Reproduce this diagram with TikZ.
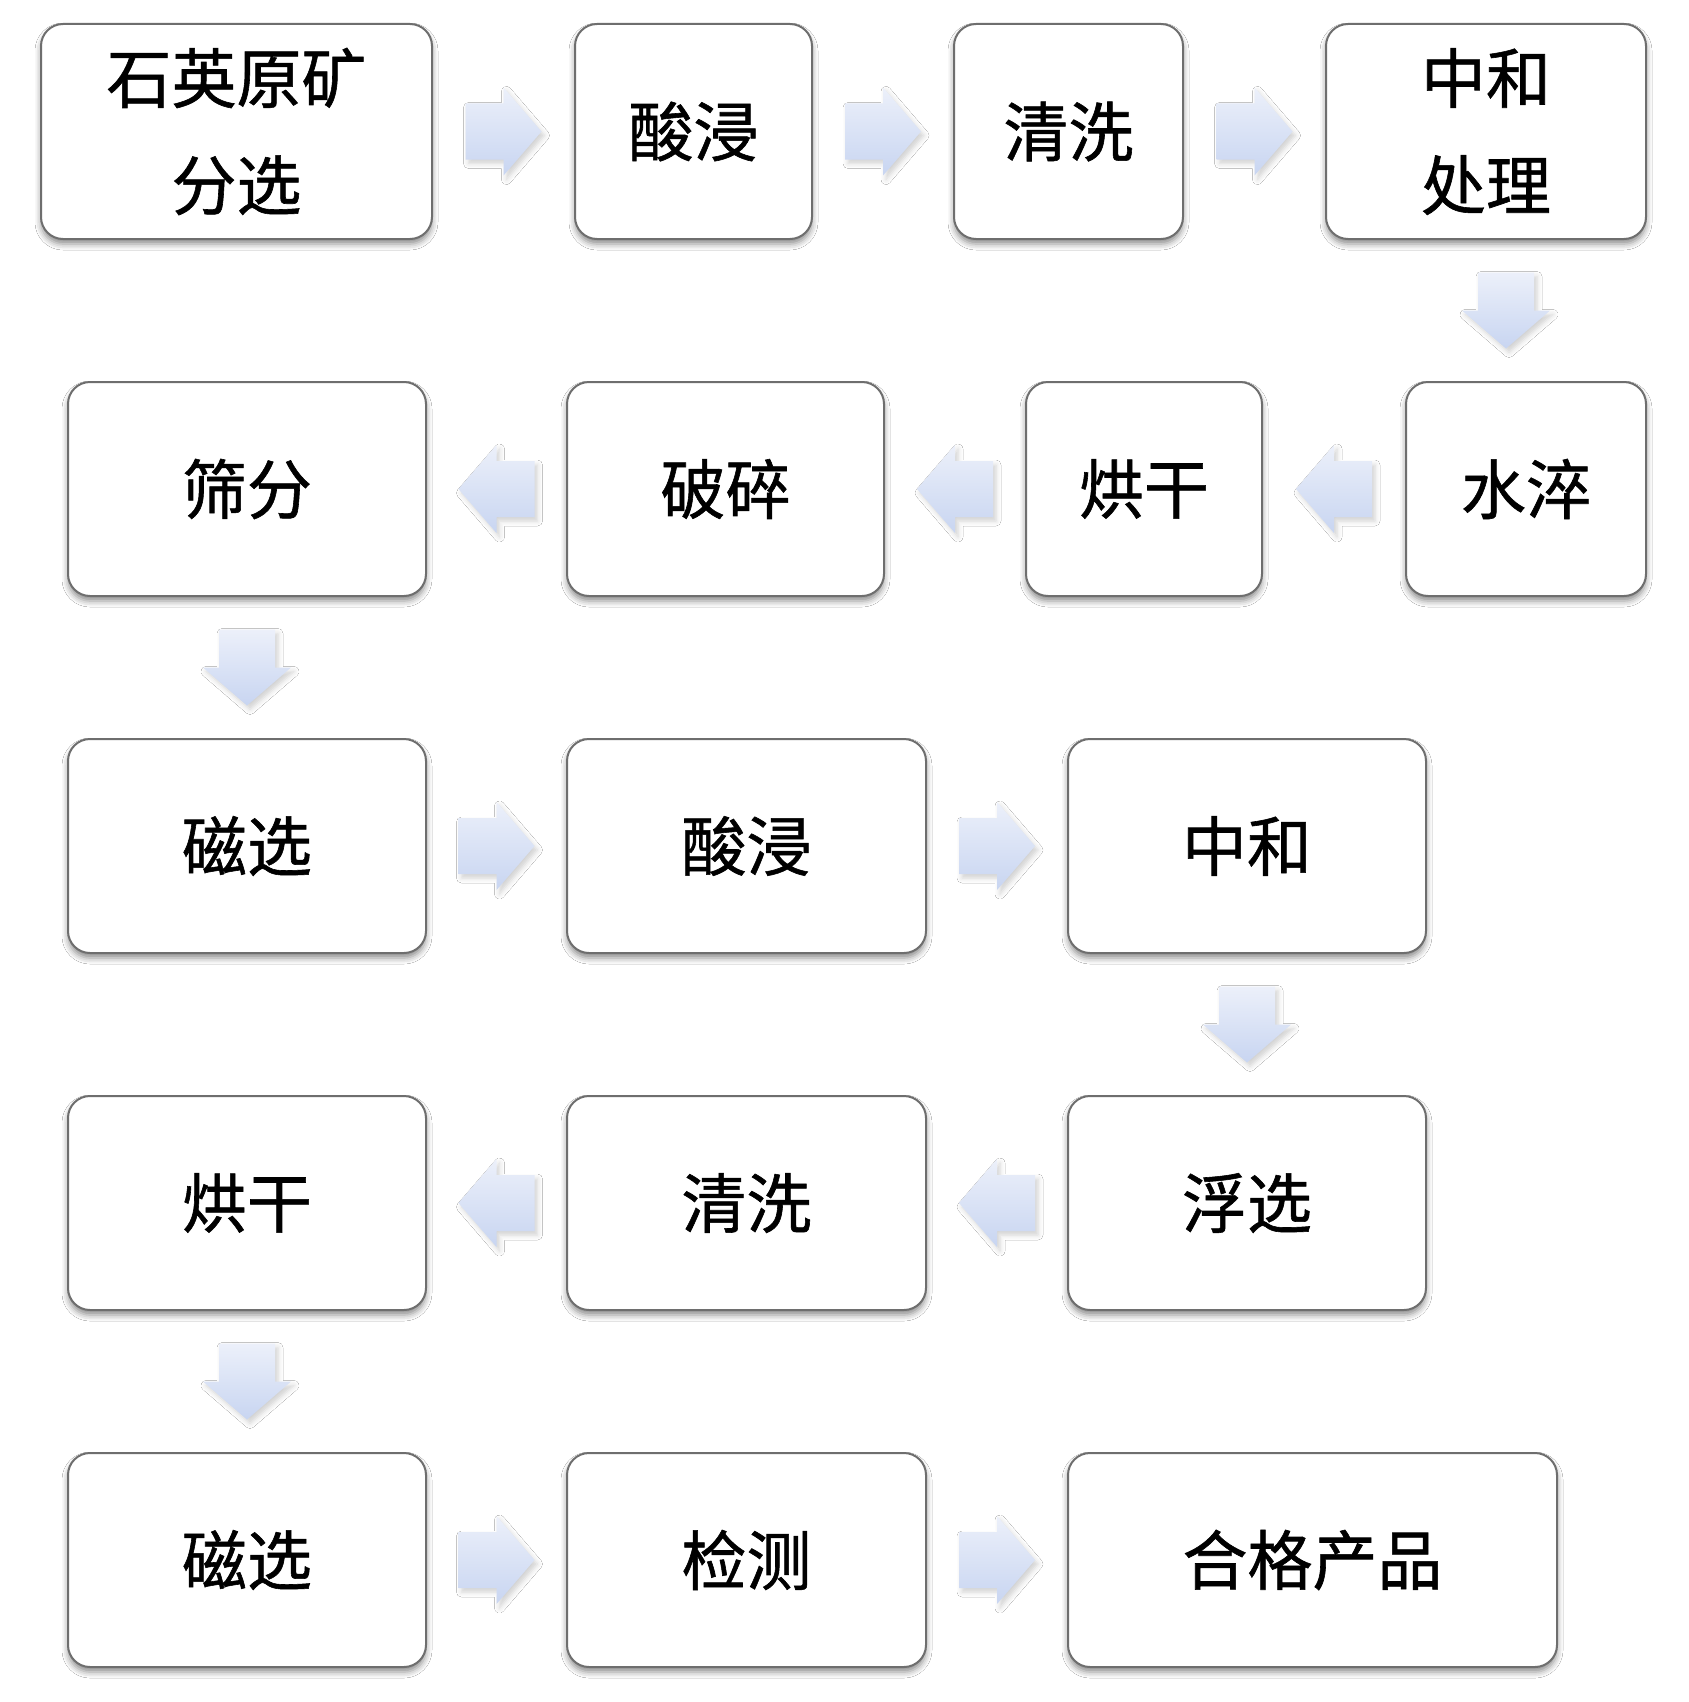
\documentclass[tikz,border=0pt]{standalone}
\usepackage{fontspec}
\setmainfont{Noto Sans CJK SC}
\newfontfamily\cjkb[FakeBold=0.9]{Noto Sans CJK SC}
\usetikzlibrary{calc,shadows.blur}
\tikzset{
  box/.style={draw=boxline, line width=1pt, rounded corners=11pt, fill=white,
    align=center, inner sep=0pt, anchor=center,
    font=\cjkb\fontsize{32.5pt}{53.5pt}\selectfont,
    blur shadow={shadow xshift=0pt, shadow yshift=-2.5pt, shadow blur radius=3pt, shadow opacity=45}},
  arrfill/.style={top color=arrtop, bottom color=arrbot, draw=none,
    blur shadow={shadow xshift=1.5pt, shadow yshift=-2pt, shadow blur radius=2.5pt, shadow opacity=18}},
  rarr/.pic={\path[arrfill] (-19pt,-14pt) -- (0pt,-14pt) -- (0pt,-22pt) -- (19pt,0pt) -- (0pt,22pt) -- (0pt,14pt) -- (-19pt,14pt) -- cycle;},
  larr/.pic={\path[arrfill] (19pt,-14pt) -- (0pt,-14pt) -- (0pt,-22pt) -- (-19pt,0pt) -- (0pt,22pt) -- (0pt,14pt) -- (19pt,14pt) -- cycle;},
  darr/.pic={\path[arrfill] (-14pt,19pt) -- (-14pt,0pt) -- (-22pt,0pt) -- (0pt,-19pt) -- (22pt,0pt) -- (14pt,0pt) -- (14pt,19pt) -- cycle;}
}
\definecolor{boxline}{HTML}{6E6E6E}
\definecolor{arrtop}{HTML}{ECF0FA}
\definecolor{arrbot}{HTML}{C8D5F1}
\begin{document}
\begin{tikzpicture}[x=0.5pt,y=-0.5pt]
\useasboundingbox[fill=white] (0,0) rectangle (1688,1702);
% row 1
\node[box, minimum width=195.5pt, minimum height=107.5pt] (b1) at (236.5,131.5) {\raisebox{-2pt}{石英原矿}\\\raisebox{-2pt}{分选}};
\node[box, minimum width=118.5pt, minimum height=107.5pt] (b2) at (693.5,131.5) {\raisebox{-3pt}{酸浸}};
\node[box, minimum width=114.5pt, minimum height=107.5pt] (b3) at (1068.5,131.5) {\raisebox{-3pt}{清洗}};
\node[box, minimum width=160pt, minimum height=107.5pt] (b4) at (1486,131.5) {\raisebox{-2pt}{中和}\\\raisebox{-2pt}{处理}};
% row 2
\node[box, minimum width=179pt, minimum height=107pt] (b5) at (247,489) {筛分};
\node[box, minimum width=158.5pt, minimum height=107pt] (b6) at (725.5,489) {破碎};
\node[box, minimum width=118pt, minimum height=107pt] (b7) at (1144,489) {\raisebox{-2pt}{烘干}};
\node[box, minimum width=120pt, minimum height=107pt] (b8) at (1526,489) {\raisebox{-2pt}{水淬}};
% row 3
\node[box, minimum width=179pt, minimum height=107pt] (b9) at (247,846) {磁选};
\node[box, minimum width=179.5pt, minimum height=107pt] (b10) at (746.5,846) {酸浸};
\node[box, minimum width=179pt, minimum height=107pt] (b11) at (1247,846) {中和};
% row 4
\node[box, minimum width=179pt, minimum height=107pt] (b12) at (247,1203) {烘干};
\node[box, minimum width=179.5pt, minimum height=107pt] (b13) at (746.5,1203) {清洗};
\node[box, minimum width=179pt, minimum height=107pt] (b14) at (1247,1203) {浮选};
% row 5
\node[box, minimum width=179pt, minimum height=107pt] (b15) at (247,1560) {磁选};
\node[box, minimum width=179.5pt, minimum height=107pt] (b16) at (746.5,1560) {检测};
\node[box, minimum width=244.5pt, minimum height=107pt] (b17) at (1312.5,1560) {合格产品};
% arrows
\pic at ($(b1.east)!0.5!(b2.west)$) {rarr};
\pic at ($(b2.east)!0.5!(b3.west)$) {rarr};
\pic at ($(b3.east)!0.5!(b4.west)$) {rarr};
\pic at ($(b4.south)!0.5!(b8.north)$) {darr};
\pic at ($(b8.west)!0.5!(b7.east)$) {larr};
\pic at ($(b7.west)!0.5!(b6.east)$) {larr};
\pic at ($(b6.west)!0.5!(b5.east)$) {larr};
\pic at ($(b5.south)!0.5!(b9.north)$) {darr};
\pic at ($(b9.east)!0.5!(b10.west)$) {rarr};
\pic at ($(b10.east)!0.5!(b11.west)$) {rarr};
\pic at ($(b11.south)!0.5!(b14.north)$) {darr};
\pic at ($(b14.west)!0.5!(b13.east)$) {larr};
\pic at ($(b13.west)!0.5!(b12.east)$) {larr};
\pic at ($(b12.south)!0.5!(b15.north)$) {darr};
\pic at ($(b15.east)!0.5!(b16.west)$) {rarr};
\pic at ($(b16.east)!0.5!(b17.west)$) {rarr};
\end{tikzpicture}
\end{document}
